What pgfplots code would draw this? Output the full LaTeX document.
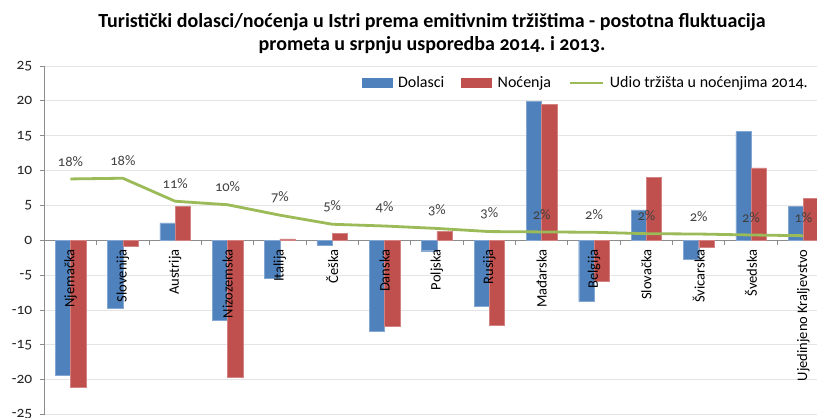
\documentclass[border=0pt]{standalone}
\usepackage{fontspec}
\setmainfont{Carlito}[Numbers=OldStyle]
\usepackage{pgfplots}
\pgfplotsset{compat=1.18}
\definecolor{cblue}{HTML}{4F81BD}
\definecolor{cred}{HTML}{C0504D}
\definecolor{cgreen}{HTML}{9BBB59}
\definecolor{cgrid}{HTML}{E4E4E4}
\definecolor{caxis}{HTML}{8C8C8C}
\begin{document}
\begin{tikzpicture}
\begin{axis}[
  name=ax,
  scale only axis,
  width=785.3pt, height=348.6pt,
  xmin=-0.5, xmax=14.5,
  ymin=-25, ymax=25,
  ytick={-25,-20,...,25},
  /pgf/number format/assume math mode=true,
  yticklabel style={font=\fontsize{15.5}{15.5}\selectfont, text=black!85, xshift=-4pt},
  ymajorgrids,
  grid style={cgrid, line width=0.8pt},
  axis x line=middle,
  axis y line=left,
  axis line style={caxis, line width=0.8pt, -},
  y axis line style={-},
  x axis line style={-},
  xtick={0.5,1.5,...,13.5},
  xticklabels={},
  x tick style={caxis, line width=0.8pt},
  ytick style={caxis, line width=0.8pt},
  tick align=outside,
  major tick length=4.5pt,
  clip=true,
  legend columns=3,
  legend style={at={(0.4,0.951)}, anchor=west, draw=none, fill=white,
    font=\fontsize{16}{16}\selectfont, column sep=4pt,
    /tikz/every even column/.append style={column sep=15pt}},
]
\addplot[ybar, bar width=15.3pt, bar shift=-7.65pt, fill=cblue, draw=cblue!70!white, line width=0.4pt,
  legend image code/.code={\fill[cblue] (0pt,-4.5pt) rectangle (30pt,4.5pt);}]
  coordinates {(0,-19.3) (1,-9.7) (2,2.5) (3,-11.4) (4,-5.4) (5,-0.7) (6,-13.0) (7,-1.5) (8,-9.5) (9,19.9) (10,-8.8) (11,4.35) (12,-2.7) (13,15.6) (14,4.9)};
\addlegendentry{Dolasci}
\addplot[ybar, bar width=15.3pt, bar shift=7.65pt, fill=cred, draw=cred!70!white, line width=0.4pt,
  legend image code/.code={\fill[cred] (0pt,-4.5pt) rectangle (30pt,4.5pt);}]
  coordinates {(0,-21.1) (1,-0.8) (2,4.9) (3,-19.6) (4,0.2) (5,0.95) (6,-12.3) (7,1.25) (8,-12.2) (9,19.5) (10,-5.9) (11,9.0) (12,-0.95) (13,10.4) (14,6.0)};
\addlegendentry{Noćenja}
\addplot[cgreen, line width=2.8pt, mark=none, line join=round,
  legend image code/.code={\draw[cgreen, line width=2.8pt] (0pt,0pt) -- (33pt,0pt);},
  nodes near coords={\pgfplotspointmeta\%},
  point meta=explicit symbolic,
  every node near coord/.append style={font=\fontsize{14.5}{14.5}\selectfont, text=black!75, anchor=south, yshift=8pt}]
  table[meta=lab] {
x y lab
0 8.8 18
1 8.9 18
2 5.6 11
3 5.1 10
4 3.6 7
5 2.3 5
6 2.05 4
7 1.7 3
8 1.25 3
9 1.2 2
10 1.15 2
11 0.95 2
12 0.9 2
13 0.76 2
14 0.66 1
};
\addlegendentry{Udio tržišta u noćenjima 2014.}
\foreach \i/\name in {0/Njemačka,1/Slovenija,2/Austrija,3/Nizozemska,4/Italija,5/Češka,6/Danska,7/Poljska,8/Rusija,9/Mađarska,10/Belgija,11/Slovačka,12/Švicarska,13/Švedska,14/Ujedinjeno Kraljevstvo}{
  \edef\tmp{\noexpand\node[rotate=90, anchor=east, font=\noexpand\fontsize{14.5}{14.5}\noexpand\selectfont, text=black, inner sep=1pt] at ([yshift=-8pt]axis cs:\i,0) {\name};}
  \tmp
}
\end{axis}
\node[font=\bfseries\fontsize{20}{23}\selectfont, align=center, anchor=center]
  at ([xshift=387.7pt, yshift=32.5pt]ax.north west)
  {Turistički dolasci/noćenja u Istri prema emitivnim tržištima - postotna fluktuacija\\prometa u srpnju usporedba 2014.\ i 2013.};
\pgfresetboundingbox
\path ([xshift=-44.3pt,yshift=-3.4pt]ax.south west) rectangle ([xshift=-12.6pt,yshift=66pt]ax.north east);
\end{tikzpicture}
\end{document}
